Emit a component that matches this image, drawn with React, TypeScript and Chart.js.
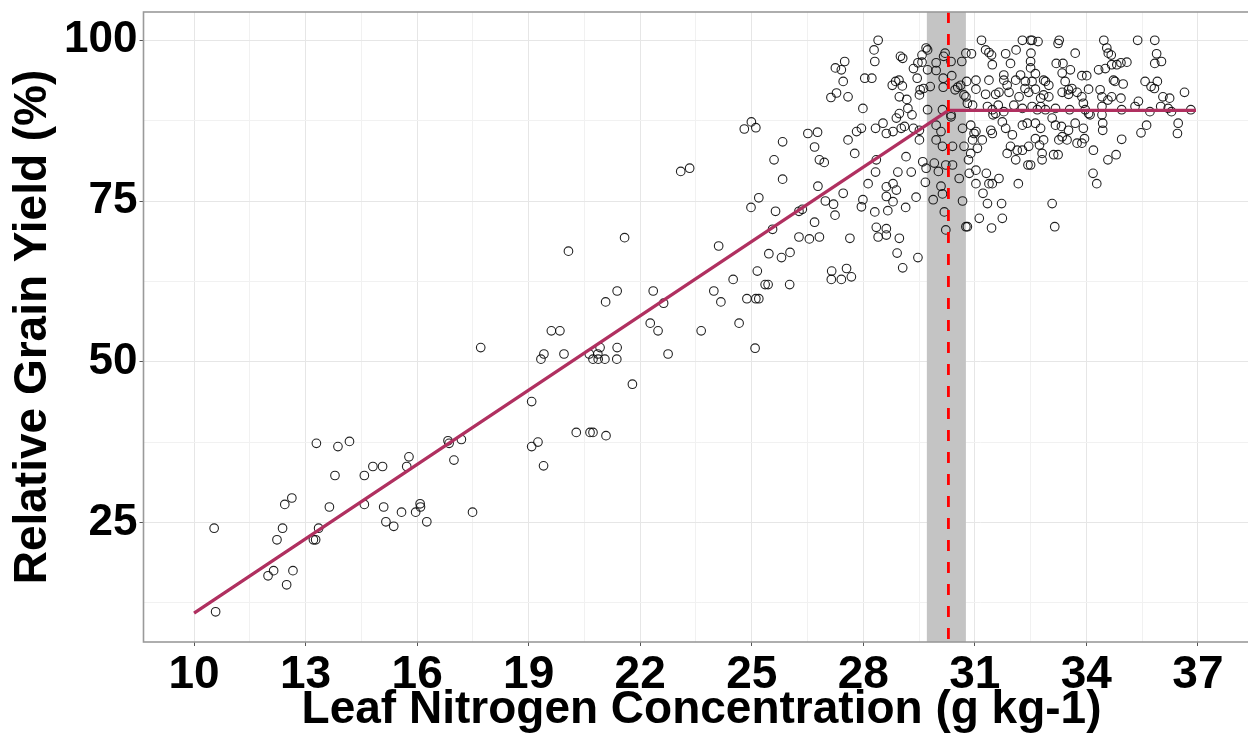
import React, { useEffect, useRef } from 'react';
import { Chart, registerables } from 'chart.js';

Chart.register(...registerables);

// ---------- Axis setup ----------
const xTitle = 'Leaf Nitrogen Concentration (g kg-1)';
const yTitle = 'Relative Grain Yield (%)';
const xLimits = [8.64, 38.66];
const yLimits = [6.4, 104.4];
const xMajorTicks = [10, 13, 16, 19, 22, 25, 28, 31, 34, 37];
const xMinorTicks = [11.5, 14.5, 17.5, 20.5, 23.5, 26.5, 29.5, 32.5, 35.5, 38.5];
const yMajorTicks = [25, 50, 75, 100];
const yMinorTicks = [12.5, 37.5, 62.5, 87.5];

// ---------- Linear-plateau fit ----------
const fitX = [10, 30.29, 36.95];
const fitY = [10.9, 89.1, 89.1];
const criticalN = 30.29;
const criticalBand = [29.71, 30.76];

// ---------- Observations [N, RY] ----------
const lowRangePoints: [number, number][] = [
  [10.54, 24.1], [10.58, 11.1], [11.99, 16.7], [12.14, 17.5], [12.23, 22.3], [12.38, 24.1],
  [12.44, 27.8], [12.63, 28.8], [12.49, 15.3], [12.66, 17.5], [13.21, 22.3], [13.27, 22.3],
  [13.35, 24.1], [13.29, 37.3], [13.64, 27.4], [13.79, 32.3], [13.87, 36.8], [14.18, 37.6],
  [14.58, 32.3], [14.58, 27.8], [14.81, 33.7], [15.07, 33.7], [15.10, 27.4], [15.16, 25.1],
  [15.37, 24.4], [15.58, 26.6], [15.72, 33.7], [15.78, 35.2], [15.96, 26.6], [16.08, 27.9],
  [16.09, 27.4], [16.26, 25.1], [16.83, 37.7], [16.86, 37.3], [16.99, 34.7], [17.19, 37.9],
  [17.49, 26.6], [17.71, 52.2], [19.08, 43.8], [19.08, 36.8], [19.25, 37.5], [19.40, 33.8],
];

const midRangePoints: [number, number][] = [
  [19.41, 51.2], [19.33, 50.4], [19.61, 54.8], [19.84, 54.8], [19.95, 51.2], [20.07, 67.2],
  [21.58, 69.3], [20.63, 51.2], [20.86, 51.2], [20.73, 50.4], [20.87, 50.4], [21.05, 50.4],
  [20.92, 52.2], [21.38, 52.2], [21.37, 50.4], [21.07, 59.3], [21.38, 61.0], [21.79, 46.5],
  [20.28, 39.0], [20.65, 39.0], [20.73, 39.0], [21.08, 38.5], [22.27, 56.0], [22.48, 54.8],
  [22.35, 61.0], [22.63, 59.1], [22.75, 51.2], [23.09, 79.6], [23.33, 80.1], [23.64, 54.8],
  [23.98, 61.0], [24.17, 59.3], [24.11, 68.0], [24.50, 62.8], [24.66, 56.0], [24.87, 59.8],
  [25.11, 59.8], [25.19, 59.8], [25.09, 52.1], [24.98, 74.0], [25.19, 75.5], [25.15, 64.1],
  [25.36, 62.0], [25.44, 62.0], [25.46, 66.8], [25.56, 70.6], [25.60, 81.4], [25.83, 78.4],
  [25.64, 73.4], [25.80, 66.2], [26.03, 67.0], [26.02, 62.0], [26.27, 69.4], [26.27, 73.4],
  [26.36, 73.7], [26.55, 69.1], [26.82, 69.4], [26.69, 71.7], [26.78, 77.3], [26.82, 81.4],
  [26.95, 81.0], [26.98, 75.0], [27.15, 64.1], [27.14, 62.8], [27.20, 74.5], [27.24, 72.8],
  [24.80, 86.2], [24.99, 87.3], [25.11, 86.4], [25.83, 84.2], [26.51, 85.5], [26.77, 85.7],
  [26.69, 83.4], [27.25, 95.7], [27.13, 91.1],
];

const highRangePoints: [number, number][] = [
  [28.40, 100.0], [31.18, 100.0], [32.28, 100.0], [32.50, 100.0], [32.54, 100.0], [32.70, 99.8],
  [33.24, 99.5], [33.27, 100.0], [34.47, 100.0], [35.38, 100.0], [35.84, 100.0],
  [28.29, 98.5], [29.69, 98.8], [29.73, 98.5], [29.58, 97.7], [30.20, 98.0], [30.76, 98.0],
  [30.91, 97.9], [31.29, 98.5], [31.38, 98.1], [31.45, 97.7], [31.83, 97.9], [32.11, 98.5],
  [32.51, 98.0], [33.70, 98.0], [34.55, 98.8], [34.59, 98.0], [34.67, 97.7], [35.89, 97.9],
  [29.00, 97.5], [29.06, 97.2],
  [27.50, 96.7], [28.31, 96.7], [29.47, 96.5], [29.58, 96.6], [29.96, 96.5], [30.16, 97.5],
  [30.36, 96.7], [30.65, 96.7], [31.47, 96.2], [31.96, 96.4], [32.50, 96.7], [32.50, 95.7],
  [33.19, 96.4], [33.37, 96.4], [34.33, 95.4], [34.51, 95.6], [34.68, 96.2], [34.82, 96.2],
  [34.93, 96.5], [35.09, 96.6], [35.84, 96.4], [36.02, 96.7], [29.35, 95.6], [29.73, 95.4],
  [29.96, 95.3], [27.41, 95.4], [33.57, 95.4],
  [27.46, 93.6], [28.04, 94.1], [28.23, 94.1], [28.78, 93.0], [28.87, 93.6], [28.96, 93.8],
  [29.05, 92.9], [29.45, 94.1], [30.15, 94.1], [30.38, 94.5], [30.54, 92.7], [30.62, 93.0],
  [30.78, 93.6], [31.03, 93.8], [31.38, 93.8], [31.78, 94.6], [31.78, 93.8], [31.87, 93.0],
  [32.10, 93.8], [32.23, 94.6], [32.36, 93.6], [32.54, 93.6], [32.63, 94.8], [32.85, 93.8],
  [32.90, 93.6], [32.99, 93.0], [33.35, 94.9], [33.43, 93.6], [33.88, 94.5], [34.01, 94.5],
  [34.73, 93.8], [34.77, 93.6], [34.99, 93.2], [35.58, 93.6], [35.74, 92.8], [35.83, 92.5],
  [35.91, 93.6], [30.15, 92.7], [33.52, 92.3], [33.61, 92.5],
  [27.28, 91.8], [27.59, 91.2], [29.17, 90.8], [29.53, 92.3], [29.62, 92.5], [29.80, 92.8],
  [30.47, 92.3], [30.71, 91.5], [30.76, 91.2], [31.03, 92.4], [31.29, 91.6], [31.56, 91.6],
  [31.65, 91.9], [31.92, 91.9], [32.19, 91.2], [32.35, 92.5], [32.45, 91.9], [32.63, 92.4],
  [32.77, 91.0], [32.85, 91.5], [32.99, 91.2], [33.35, 91.9], [33.52, 91.6], [33.75, 91.9],
  [33.88, 91.2], [34.06, 92.4], [34.37, 92.3], [34.42, 91.2], [34.58, 90.7], [34.68, 91.2],
  [34.93, 91.0], [36.06, 91.2], [36.24, 91.0], [36.64, 91.9], [29.51, 91.5], [28.97, 91.2],
  [27.99, 89.4], [28.97, 88.6], [29.20, 89.4], [29.31, 88.4], [29.73, 89.2], [30.13, 89.2],
  [30.36, 88.4], [30.80, 90.2], [30.94, 89.9], [31.34, 89.7], [31.47, 89.2], [31.63, 89.9],
  [31.78, 88.9], [32.05, 89.9], [32.28, 89.4], [32.54, 89.7], [32.68, 89.2], [32.90, 89.2],
  [33.17, 89.4], [33.55, 89.2], [33.92, 90.2], [33.97, 89.2], [34.42, 89.7], [34.95, 89.2],
  [35.31, 89.7], [35.40, 90.5], [35.71, 88.9], [36.00, 89.7], [36.20, 89.4], [36.29, 88.9],
  [36.81, 89.2], [32.77, 89.7], [31.56, 88.6],
  [27.82, 85.8], [27.95, 86.3], [28.33, 86.3], [28.53, 87.1], [28.62, 85.5], [28.80, 85.8],
  [28.89, 87.9], [29.02, 86.3], [29.11, 86.6], [29.35, 86.3], [29.51, 86.0], [29.96, 86.8],
  [30.09, 85.8], [30.36, 88.1], [30.67, 86.3], [30.89, 86.8], [30.98, 85.5], [31.03, 85.8],
  [31.43, 86.0], [31.47, 85.5], [31.74, 87.3], [31.83, 86.3], [32.01, 85.3], [32.28, 86.8],
  [32.41, 87.1], [32.63, 87.1], [32.77, 86.3], [33.08, 87.9], [33.17, 86.8], [33.33, 86.6],
  [33.52, 86.0], [33.70, 87.1], [33.92, 86.3], [34.10, 88.4], [34.42, 88.4], [34.44, 87.1],
  [34.44, 86.0], [35.47, 85.6], [35.62, 86.8], [36.47, 87.1], [36.45, 85.5], [31.49, 88.4],
  [34.06, 88.6],
  [27.59, 84.5], [29.51, 84.5], [29.96, 84.5], [30.13, 83.5], [30.40, 83.5], [30.71, 83.5],
  [30.94, 84.5], [31.07, 83.2], [31.20, 84.5], [31.96, 83.5], [32.14, 82.9], [32.28, 82.9],
  [32.45, 83.5], [32.63, 84.7], [32.74, 83.7], [32.85, 84.5], [33.26, 84.5], [33.35, 85.0],
  [33.48, 84.5], [33.75, 84.0], [33.88, 84.0], [33.95, 84.7], [34.19, 82.9], [34.95, 84.6],
  [27.77, 82.4], [28.35, 81.4], [29.15, 81.9], [29.60, 81.1], [29.91, 80.9], [30.22, 80.6],
  [30.40, 80.6], [30.89, 82.4], [30.83, 81.4], [31.03, 79.8], [31.31, 79.3], [31.87, 82.4],
  [32.10, 81.4], [32.43, 80.6], [32.50, 80.6], [32.81, 81.4], [32.81, 82.4], [33.12, 82.2],
  [33.24, 82.2], [34.58, 81.4], [34.80, 82.2], [29.69, 80.1], [30.02, 79.6], [30.58, 78.5],
  [30.85, 79.3], [28.33, 79.5], [28.93, 79.5], [29.29, 79.5],
  [28.13, 77.7], [28.62, 77.2], [28.80, 77.7], [29.67, 77.9], [30.09, 77.3], [31.03, 77.7],
  [31.38, 77.7], [31.47, 77.7], [31.65, 78.5], [32.17, 77.7], [34.28, 77.7], [34.18, 79.3],
  [27.46, 76.2], [27.99, 75.2], [27.95, 74.1], [28.31, 73.3], [28.62, 75.7], [28.66, 73.5],
  [28.80, 74.9], [28.89, 76.7], [29.14, 74.0], [29.42, 75.6], [29.88, 75.2], [30.13, 76.1],
  [30.18, 73.3], [30.67, 75.0], [31.22, 76.2], [31.34, 74.6], [31.72, 74.6], [33.08, 74.6],
  [28.35, 70.9], [28.40, 69.4], [28.62, 70.7], [28.62, 69.7], [28.97, 69.2], [30.22, 70.5],
  [30.76, 71.0], [30.80, 71.0], [31.12, 72.3], [31.45, 70.8], [31.74, 72.3], [33.15, 71.0],
  [27.64, 69.2],
  [28.91, 66.9], [29.47, 66.2], [27.55, 64.5], [27.68, 63.2], [27.41, 62.8], [29.06, 64.6],
];

// ---------- Styling ----------
const FONT = "'Liberation Sans', Arial, Helvetica, sans-serif";
const FIT_COLOR = '#B03060';
const BAND_COLOR = '#C4C4C4';
const VLINE_COLOR = '#FF0000';
const BORDER_COLOR = '#9A9A9A';

const isIn = (arr: number[], v: number) => arr.some((a) => Math.abs(a - v) < 1e-6);

const panelPlugin = {
  id: 'panelDecor',
  beforeDatasetsDraw(chart: any) {
    const { ctx, chartArea, scales } = chart;
    const x = scales.x;
    const l = x.getPixelForValue(criticalBand[0]);
    const r = x.getPixelForValue(criticalBand[1]);
    ctx.save();
    ctx.fillStyle = BAND_COLOR;
    ctx.fillRect(l, chartArea.top, r - l, chartArea.bottom - chartArea.top);
    ctx.restore();
  },
  afterDatasetsDraw(chart: any) {
    const { ctx, chartArea, scales } = chart;
    const px = scales.x.getPixelForValue(criticalN);
    ctx.save();
    ctx.strokeStyle = VLINE_COLOR;
    ctx.lineWidth = 2.8;
    ctx.setLineDash([11, 11]);
    ctx.beginPath();
    ctx.moveTo(px, chartArea.top);
    ctx.lineTo(px, chartArea.bottom);
    ctx.stroke();
    ctx.restore();
  },
  afterDraw(chart: any) {
    const { ctx, chartArea } = chart;
    ctx.save();
    ctx.strokeStyle = BORDER_COLOR;
    ctx.lineWidth = 1.6;
    ctx.strokeRect(chartArea.left, chartArea.top, chartArea.right - chartArea.left, chartArea.bottom - chartArea.top);
    ctx.restore();
  },
};

const CANVAS_W = 1265;
const CANVAS_H = 740;

export default function App() {
  const canvasRef = useRef<HTMLCanvasElement | null>(null);

  useEffect(() => {
    const canvas = canvasRef.current;
    if (!canvas) return;
    const allPoints = [...lowRangePoints, ...midRangePoints, ...highRangePoints];

    const zeroPad = (scale: any) => {
      scale.paddingTop = 0;
      scale.paddingBottom = 0;
      scale.paddingLeft = 0;
      scale.paddingRight = 0;
    };

    const chart = new Chart(canvas, {
      type: 'scatter',
      data: {
        datasets: [
          {
            type: 'line',
            label: 'fit',
            data: fitX.map((x, i) => ({ x, y: fitY[i] })),
            borderColor: FIT_COLOR,
            borderWidth: 3.3,
            pointRadius: 0,
            tension: 0,
            fill: false,
            order: 0,
          } as any,
          {
            type: 'scatter',
            label: 'obs',
            data: allPoints.map(([x, y]) => ({ x, y })),
            pointRadius: 4.3,
            pointBorderWidth: 1.1,
            pointBorderColor: 'rgba(10,10,10,0.9)',
            pointBackgroundColor: 'rgba(0,0,0,0)',
            order: 1,
          } as any,
        ],
      },
      options: {
        responsive: false,
        animation: false,
        events: [],
        layout: { padding: { top: 12, left: 0, right: 0, bottom: 0 } },
        plugins: {
          legend: { display: false },
          tooltip: { enabled: false },
        },
        scales: {
          x: {
            type: 'linear',
            min: xLimits[0],
            max: xLimits[1],
            afterBuildTicks: (scale: any) => {
              scale.ticks = [...xMajorTicks, ...xMinorTicks]
                .sort((a, b) => a - b)
                .map((v) => ({ value: v }));
            },
            afterFit: (scale: any) => {
              scale.height = 98;
              zeroPad(scale);
            },
            ticks: {
              autoSkip: false,
              maxRotation: 0,
              padding: 2,
              color: '#000',
              font: { family: FONT, size: 46, weight: 'bold' },
              callback: (v: any) => (isIn(xMajorTicks, Number(v)) ? String(v) : ''),
            },
            grid: {
              color: (c: any) => (c.tick && isIn(xMajorTicks, c.tick.value) ? '#E6E6E6' : '#F1F1F1'),
              lineWidth: 1,
              tickLength: 4,
              tickColor: (c: any) => (c.tick && isIn(xMajorTicks, c.tick.value) ? '#555' : 'rgba(0,0,0,0)'),
            },
            border: { display: false },
            title: {
              display: true,
              text: xTitle,
              color: '#000',
              font: { family: FONT, size: 46, weight: 'bold', lineHeight: 1 },
              padding: { top: 0, bottom: 7 },
            },
          },
          y: {
            type: 'linear',
            min: yLimits[0],
            max: yLimits[1],
            afterBuildTicks: (scale: any) => {
              scale.ticks = [...yMajorTicks, ...yMinorTicks]
                .sort((a, b) => a - b)
                .map((v) => ({ value: v }));
            },
            afterFit: (scale: any) => {
              scale.width = 143.5;
              zeroPad(scale);
            },
            ticks: {
              autoSkip: false,
              padding: 2,
              color: '#000',
              font: { family: FONT, size: 44, weight: 'bold' },
              callback: (v: any) => (isIn(yMajorTicks, Number(v)) ? String(v) : ''),
            },
            grid: {
              color: (c: any) => (c.tick && isIn(yMajorTicks, c.tick.value) ? '#E6E6E6' : '#F1F1F1'),
              lineWidth: 1,
              tickLength: 4,
              tickColor: (c: any) => (c.tick && isIn(yMajorTicks, c.tick.value) ? '#555' : 'rgba(0,0,0,0)'),
            },
            border: { display: false },
            title: {
              display: true,
              text: yTitle,
              color: '#000',
              font: { family: FONT, size: 46, weight: 'bold', lineHeight: 1 },
              padding: { top: 10, bottom: 0 },
            },
          },
        },
      },
      plugins: [panelPlugin],
    } as any);

    return () => chart.destroy();
  }, []);

  return (
    <div style={{ position: 'absolute', left: 0, top: 0, width: 1248, height: 740, overflow: 'hidden', background: '#fff' }}>
      <canvas
        ref={canvasRef}
        width={CANVAS_W}
        height={CANVAS_H}
        style={{ width: CANVAS_W, height: CANVAS_H, display: 'block' }}
      />
    </div>
  );
}
